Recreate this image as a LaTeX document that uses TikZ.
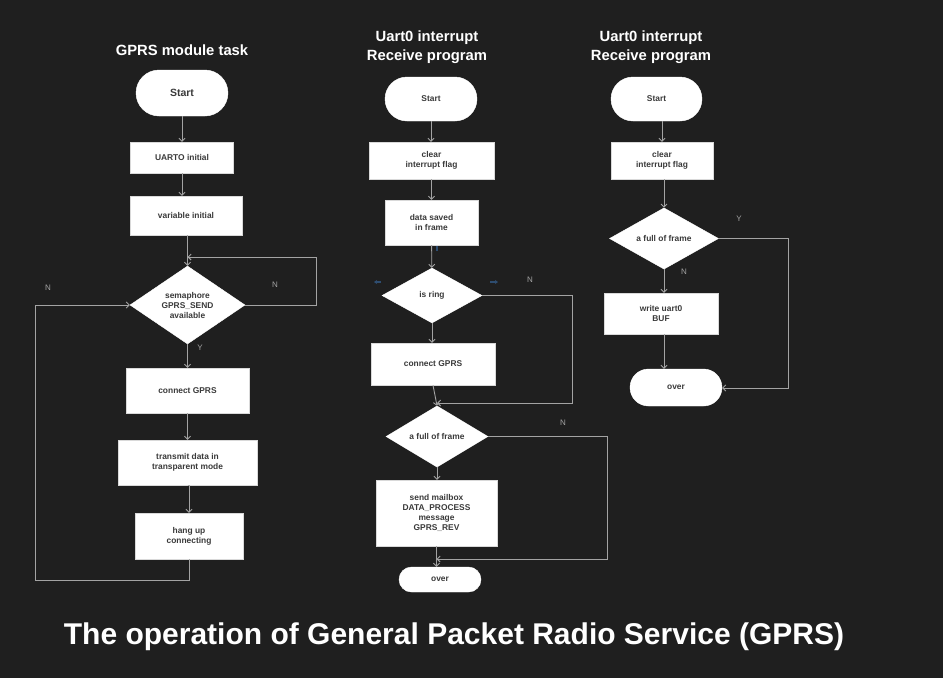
\documentclass[tikz,border=0pt]{standalone}
\usepackage{fontspec}
\setmainfont{Liberation Sans}
\usetikzlibrary{shapes.geometric, arrows.meta, positioning, calc}
\definecolor{bg}{HTML}{1F1F1F}
\definecolor{wire}{HTML}{A3A3A3}
\definecolor{ink}{HTML}{3A3A3A}
\definecolor{handle}{HTML}{2E4D70}

\begin{document}
\begin{tikzpicture}[
  x=1pt, y=-1pt,
  font=\bfseries\fontsize{8.4}{10}\selectfont,
  >={Straight Barb[length=3pt,width=6pt]},
  term/.style={rectangle, rounded corners=#1, draw=white, fill=white, text=ink, align=center, inner sep=0pt},
  pbox/.style={rectangle, draw=black!15, fill=white, text=ink, align=center, inner sep=0pt},
  dec/.style={diamond, draw=white, fill=white, text=ink, align=center, inner sep=0pt},
  head/.style={text=white, align=center, font=\bfseries\fontsize{14.8}{19}\selectfont},
  lab/.style={text=wire, font=\fontsize{8}{9}\selectfont},
  a/.style={->, wire, line width=0.9pt},
]
\useasboundingbox[fill=bg] (0,0) rectangle (943,678);
% column 1: GPRS module task
\node[head] (title1) at (182,50) {GPRS module task};
\node[term=23pt, minimum width=92, minimum height=46, font=\bfseries\fontsize{10.5}{12}\selectfont] (start1) at (182,93) {Start};
\node[pbox, minimum width=103, minimum height=31] (uart1) at (182,157.5) {UARTO initial};
\node[pbox, minimum width=112, minimum height=39] (var1) at (186,215.5) {variable initial};
\node[dec, minimum width=115, minimum height=72] (sem1) at (187.5,305) {semaphore\\GPRS\_SEND\\available};
\node[pbox, minimum width=123, minimum height=45] (conn1) at (187.5,390.5) {connect GPRS};
\node[pbox, minimum width=139, minimum height=45] (trans1) at (187.5,462.5) {transmit data in\\transparent mode};
\node[pbox, minimum width=108, minimum height=46] (hang1) at (189,536) {hang up\\connecting};
\coordinate (loop1) at (316,257);
\coordinate (back1) at (35,580);
\node[lab] (n1a) at (48,288) {N};
\node[lab] (n1b) at (275,285) {N};
\node[lab] (y1) at (200,348) {Y};
% column 2: first receive program
\node[head] (title2) at (427,47.5) {Uart0 interrupt\\Receive program};
\node[term=22pt, minimum width=92, minimum height=44] (start2) at (431,99) {Start};
\node[pbox, minimum width=125, minimum height=37] (clr2) at (431.5,160.5) {clear\\interrupt flag};
\node[pbox, minimum width=93, minimum height=45] (saved2) at (431.5,222.5) {data saved\\in frame};
\node[dec, minimum width=100, minimum height=55] (ring2) at (432,295.5) {is ring};
\node[pbox, minimum width=124, minimum height=42] (conn2) at (433,364) {connect GPRS};
\node[dec, minimum width=102, minimum height=55] (full2) at (437,436.5) {a full of frame};
\node[pbox, minimum width=121, minimum height=66] (mail2) at (436.5,513) {send mailbox\\DATA\_PROCESS\\message\\GPRS\_REV};
\node[term=12.5pt, minimum width=82, minimum height=25] (over2) at (440,579.5) {over};
\coordinate (ringn) at (572,403);
\coordinate (fulln) at (607,559);
\node[lab] (n2a) at (530,280) {N};
\node[lab] (n2b) at (563,423) {N};
% column 3: second receive program
\node[head] (title3) at (651,47.5) {Uart0 interrupt\\Receive program};
\node[term=22pt, minimum width=91, minimum height=44] (start3) at (656.5,99) {Start};
\node[pbox, minimum width=102, minimum height=37] (clr3) at (662,160.5) {clear\\interrupt flag};
\node[dec, minimum width=109, minimum height=57] (full3) at (664,238.5) {a full of frame};
\node[pbox, minimum width=114, minimum height=41] (buf3) at (661,313.5) {write uart0\\BUF};
\node[term=18.5pt, minimum width=92, minimum height=37] (over3) at (676,387.5) {over};
\coordinate (fully) at (788,388);
\node[lab] (y3) at (739,219) {Y};
\node[lab] (n3) at (684,272) {N};
% caption
\node[text=white, font=\bfseries\fontsize{30}{34}\selectfont] (caption) at (454,637) {The operation of General Packet Radio Service (GPRS)};
% arrows
\draw[a] (start1)--(uart1);
\draw[a] (uart1.south)--(uart1.south|-var1.north);
\draw[a] (sem1|-var1.south)--(sem1.north);
\draw[a] (sem1)--(conn1);
\draw[a] (conn1)--(trans1);
\draw[a] (trans1.south)--(trans1.south-|hang1)--(hang1.north);
\draw[a] (sem1.east) -| (loop1) -- (loop1-|sem1);
\draw[a] (hang1.south) |- (back1) |- (sem1.west);
\draw[a] (start2.south)--(start2.south|-clr2.north);
\draw[a] (clr2)--(saved2);
\draw[a] (saved2)--(ring2);
\draw[a] (ring2.south)--(ring2.south|-conn2.north);
\draw[a] (conn2.south)--(full2.north);
\draw[a] (full2.south)--(full2.south|-mail2.north);
\draw[a] (mail2.south)--(mail2.south|-over2.north);
\draw[a] (ring2.east) -| (ringn) -- (ringn-|full2);
\draw[a] (full2.east) -| (fulln) -- (fulln-|mail2);
\draw[a] (clr3|-start3.south)--(clr3.north);
\draw[a] (full3|-clr3.south)--(full3.north);
\draw[a] (full3.south)--(full3.south|-buf3.north);
\draw[a] (full3|-buf3.south)--(full3|-over3.north);
\draw[a] (full3.east) -| (fully) -- (fully-|over3.east);
% selection handles left on the "is ring" shape
\draw[->, handle, line width=1.2pt, >={Stealth[length=3pt,width=4pt]}] (381,282)--(374,282);
\draw[->, handle, line width=1.2pt, >={Stealth[length=3pt,width=4pt]}] (490,282)--(498,282);
\draw[handle, line width=1.2pt] (437,246)--(437,251);
\end{tikzpicture}
\end{document}
